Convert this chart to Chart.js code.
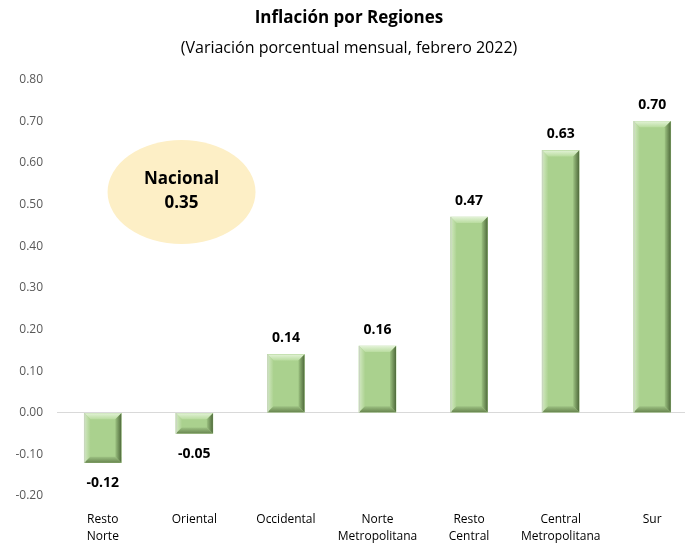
<!DOCTYPE html>
<html>
<head>
<meta charset="utf-8">
<script src="https://cdn.jsdelivr.net/npm/chart.js@4"></script>
<style>
  html, body { margin: 0; padding: 0; background: #fff; overflow: hidden; }
  #wrap { width: 698px; height: 544px; }
</style>
</head>
<body>
<div id="wrap"><canvas id="chart"></canvas></div>
<script>
// datos del grafico
const regiones = [['Resto', 'Norte'], 'Oriental', 'Occidental', ['Norte', 'Metropolitana'], ['Resto', 'Central'], ['Central', 'Metropolitana'], 'Sur'];
const variacion = [-0.12, -0.05, 0.14, 0.16, 0.47, 0.63, 0.70];
const nacional = 0.35;
const yMin = -0.2, yMax = 0.8, yStep = 0.1;

const FONT = "'Open Sans', 'Noto Sans', sans-serif";

// barras con efecto biselado
const bevelPlugin = {
    id: 'bevel',
    afterDatasetsDraw(chart) {
        const ctx = chart.ctx;
        chart.getDatasetMeta(0).data.forEach(function (bar) {
            const w = bar.width;
            const l = bar.x - w / 2, r = bar.x + w / 2;
            const t = Math.min(bar.y, bar.base), b = Math.max(bar.y, bar.base);
            const d = Math.min(6, (b - t) / 2);
            let g;
            ctx.save();
            // cara superior (clara)
            g = ctx.createLinearGradient(0, t, 0, t + d);
            g.addColorStop(0, '#e2f2d6'); g.addColorStop(1, '#b9dc9f');
            ctx.fillStyle = g;
            ctx.beginPath();
            ctx.moveTo(l, t); ctx.lineTo(r, t); ctx.lineTo(r - d, t + d); ctx.lineTo(l + d, t + d); ctx.closePath(); ctx.fill();
            // cara izquierda
            g = ctx.createLinearGradient(l, 0, l + d, 0);
            g.addColorStop(0, '#d3e9c3'); g.addColorStop(1, '#acd290');
            ctx.fillStyle = g;
            ctx.beginPath();
            ctx.moveTo(l, t); ctx.lineTo(l + d, t + d); ctx.lineTo(l + d, b - d); ctx.lineTo(l, b); ctx.closePath(); ctx.fill();
            // cara derecha (oscura)
            g = ctx.createLinearGradient(r - d, 0, r, 0);
            g.addColorStop(0, '#9cc281'); g.addColorStop(1, '#4f6a3b');
            ctx.fillStyle = g;
            ctx.beginPath();
            ctx.moveTo(r, t); ctx.lineTo(r, b); ctx.lineTo(r - d, b - d); ctx.lineTo(r - d, t + d); ctx.closePath(); ctx.fill();
            // cara inferior
            g = ctx.createLinearGradient(0, b - d, 0, b);
            g.addColorStop(0, '#9dc283'); g.addColorStop(1, '#68854f');
            ctx.fillStyle = g;
            ctx.beginPath();
            ctx.moveTo(l, b); ctx.lineTo(r, b); ctx.lineTo(r - d, b - d); ctx.lineTo(l + d, b - d); ctx.closePath(); ctx.fill();
            // borde izquierdo claro
            ctx.strokeStyle = '#c9d4c1';
            ctx.lineWidth = 1;
            ctx.beginPath();
            ctx.moveTo(l + 0.5, t); ctx.lineTo(l + 0.5, b);
            ctx.stroke();
            ctx.restore();
        });
    }
};

// etiquetas de valores y elipse nacional
const labelsPlugin = {
    id: 'valueLabels',
    afterDraw(chart) {
        const ctx = chart.ctx;
        const xs = chart.scales.x, ys = chart.scales.y;
        ctx.save();
        ctx.font = 'bold 14px ' + FONT;
        ctx.fillStyle = '#000';
        ctx.textAlign = 'center';
        ctx.textBaseline = 'middle';
        chart.getDatasetMeta(0).data.forEach(function (bar, i) {
            const v = variacion[i];
            const y = v >= 0 ? bar.y - 16 : bar.y + 20;
            ctx.fillText(v.toFixed(2), bar.x, y);
        });

        // elipse "Nacional"
        const cx = xs.getPixelForValue(0.86);
        const cy = ys.getPixelForValue(0.53);
        ctx.fillStyle = '#fdefc6';
        ctx.beginPath();
        ctx.ellipse(cx, cy, 74, 52, 0, 0, Math.PI * 2);
        ctx.fill();
        ctx.fillStyle = '#000';
        ctx.font = 'bold 17px ' + FONT;
        ctx.fillText('Nacional', cx, cy - 13);
        ctx.fillText(nacional.toFixed(2), cx, cy + 11);
        ctx.restore();
    }
};

const ctx = document.getElementById('chart').getContext('2d');
new Chart(ctx, {
    type: 'bar',
    data: {
        labels: regiones,
        datasets: [{
            data: variacion,
            backgroundColor: '#aad18e',
            borderWidth: 0,
            barThickness: 37
        }]
    },
    options: {
        responsive: true,
        maintainAspectRatio: false,
        animation: false,
        layout: { padding: 0 },
        plugins: {
            legend: { display: false },
            tooltip: { enabled: false },
            title: {
                display: true,
                text: 'Inflación por Regiones',
                color: '#000',
                font: { family: FONT, size: 17, weight: 'bold' },
                padding: { top: 8, bottom: 10 }
            },
            subtitle: {
                display: true,
                text: '(Variación porcentual mensual, febrero 2022)',
                color: '#000',
                font: { family: FONT, size: 16 },
                padding: { top: 0, bottom: 22 }
            }
        },
        scales: {
            x: {
                grid: { display: false, drawTicks: false },
                border: { display: false },
                afterFit: function (s) { s.height = 48; },
                ticks: {
                    color: '#000',
                    font: { family: FONT, size: 12, lineHeight: 1.4 },
                    maxRotation: 0,
                    autoSkip: false,
                    padding: 15
                }
            },
            y: {
                min: yMin,
                max: yMax,
                border: { display: false },
                afterFit: function (s) { s.width = 57; },
                grid: {
                    drawTicks: false,
                    color: function (c) { return Math.abs(c.tick.value) < 1e-9 ? '#d9d9d9' : 'rgba(0,0,0,0)'; }
                },
                ticks: {
                    stepSize: yStep,
                    color: '#595959',
                    font: { family: FONT, size: 12 },
                    padding: 14,
                    callback: function (v) { return Number(v).toFixed(2); }
                }
            }
        }
    },
    plugins: [bevelPlugin, labelsPlugin]
});
</script>
</body>
</html>
